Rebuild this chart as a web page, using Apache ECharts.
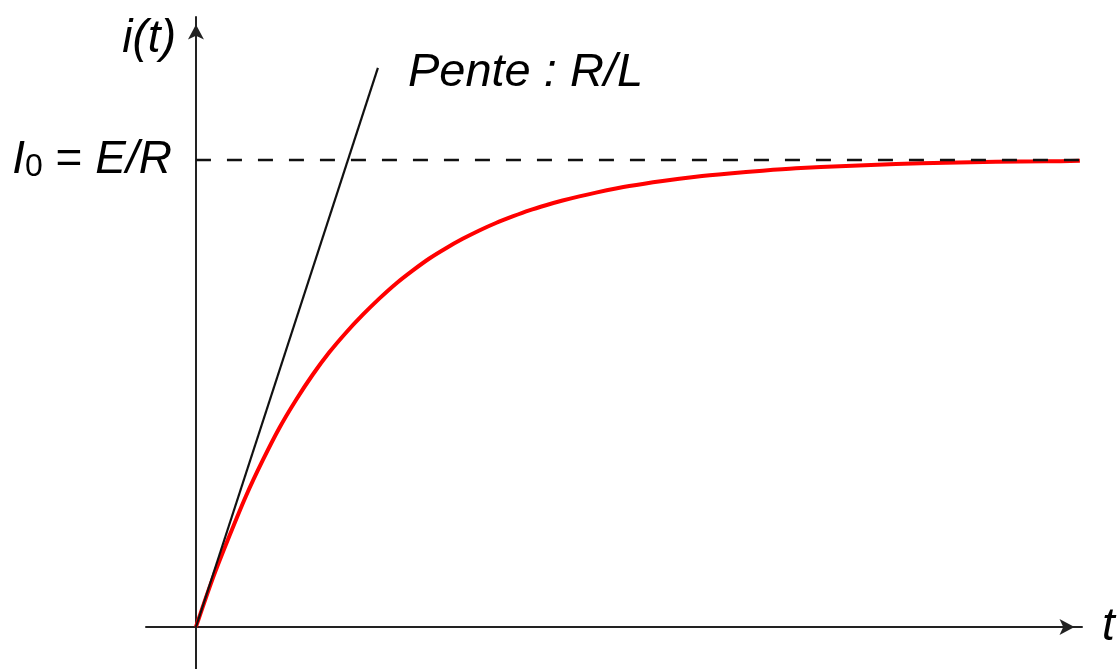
<!DOCTYPE html>
<html>
<head>
<meta charset="utf-8">
<title>i(t) – établissement du courant dans un circuit RL</title>
<script src="https://cdn.jsdelivr.net/npm/echarts@6/dist/echarts.min.js"></script>
<style>
  html, body { margin: 0; padding: 0; background: #ffffff; }
  #chart { width: 1119px; height: 669px; }
</style>
</head>
<body>
<div id="chart"></div>
<script>
// Time in units of tau = L/R, current in units of I0 = E/R
const curveT = [0, 0.111, 0.222, 0.333, 0.444, 0.556, 0.667, 0.778, 0.889, 1.0, 1.111, 1.222, 1.333, 1.444, 1.556, 1.667, 1.778, 1.889, 2.0, 2.111, 2.222, 2.333, 2.444, 2.556, 2.667, 2.889, 3.111, 3.333, 3.556, 3.778, 4.0, 4.333, 4.667, 5.0, 5.333, 5.667, 5.893];
const curveI = [0, 0.103, 0.194, 0.280, 0.356, 0.426, 0.486, 0.540, 0.588, 0.630, 0.668, 0.703, 0.735, 0.763, 0.789, 0.811, 0.831, 0.849, 0.865, 0.879, 0.892, 0.903, 0.913, 0.922, 0.930, 0.944, 0.955, 0.964, 0.971, 0.977, 0.982, 0.987, 0.991, 0.994, 0.996, 0.997, 0.998];

// Tangent at the origin (slope R/L)
const tangentT = [0, 1.213];
const tangentI = [0, 1.197];

// Asymptote i = I0
const levelT = [0, 5.893];
const levelI = [1, 1];

// Axis extents
const tRange = [-0.333, 5.907];
const iRange = [-0.09, 1.306];

const FONT = '"Liberation Sans", Arial, sans-serif';
const pairs = (xs, ys) => xs.map((x, k) => [x, ys[k]]);

const chart = echarts.init(document.getElementById('chart'), null, { renderer: 'canvas' });

const axisLine = {
  show: true,
  onZero: true,
  symbol: ['none', 'arrow'],
  symbolSize: [12, 15],
  symbolOffset: [0, -7.5],
  lineStyle: { color: '#222222', width: 2 }
};

chart.setOption({
  animation: false,
  backgroundColor: '#ffffff',
  textStyle: { fontFamily: FONT },
  grid: { left: 146, right: 37, top: 17, bottom: 0, containLabel: false, outerBoundsMode: 'none' },
  xAxis: {
    type: 'value',
    min: tRange[0],
    max: tRange[1],
    axisLine: axisLine,
    axisTick: { show: false },
    axisLabel: { show: false },
    splitLine: { show: false },
    name: 't',
    nameLocation: 'end',
    nameGap: 20,
    nameTextStyle: { fontSize: 46, fontStyle: 'italic', color: '#000000', fontFamily: FONT }
  },
  yAxis: {
    type: 'value',
    min: iRange[0],
    max: iRange[1],
    axisLine: axisLine,
    axisTick: { show: false },
    axisLabel: { show: false },
    splitLine: { show: false },
    name: 'i(t)',
    nameLocation: 'end',
    nameGap: 1,
    nameTextStyle: {
      fontSize: 46, fontStyle: 'italic', color: '#000000', fontFamily: FONT,
      align: 'right', verticalAlign: 'top', padding: [0, 20, 0, 0]
    }
  },
  series: [
    {
      name: 'i(t)',
      type: 'line',
      data: pairs(curveT, curveI),
      smooth: 0.3,
      showSymbol: false,
      clip: false,
      silent: true,
      lineStyle: { color: '#ff0000', width: 4 },
      z: 2
    },
    {
      name: 'tangente',
      type: 'line',
      data: pairs(tangentT, tangentI),
      showSymbol: false,
      clip: false,
      silent: true,
      lineStyle: { color: '#111111', width: 2.2 },
      endLabel: {
        show: true,
        formatter: 'Pente : R/L',
        distance: 30,
        offset: [0, 5],
        fontSize: 47,
        fontStyle: 'italic',
        color: '#000000',
        fontFamily: FONT
      },
      z: 3
    },
    {
      name: 'I0',
      type: 'line',
      data: pairs(levelT, levelI),
      showSymbol: false,
      clip: false,
      silent: true,
      lineStyle: { color: '#111111', width: 2.5, type: [15, 16] },
      markPoint: {
        silent: true,
        symbol: 'circle',
        symbolSize: 0,
        data: [{ coord: [levelT[0], levelI[0]] }],
        label: {
          show: true,
          position: 'left',
          distance: 24,
          formatter: () => '{it|I}{sub|0}{up| = }{it|E/R}',
          rich: {
            it: { fontSize: 46, fontStyle: 'italic', color: '#000000', fontFamily: FONT, lineHeight: 46 },
            up: { fontSize: 46, color: '#000000', fontFamily: FONT, lineHeight: 46 },
            sub: { fontSize: 32, color: '#000000', fontFamily: FONT, lineHeight: 26, verticalAlign: 'bottom' }
          }
        }
      },
      z: 4
    }
  ]
});
</script>
</body>
</html>
